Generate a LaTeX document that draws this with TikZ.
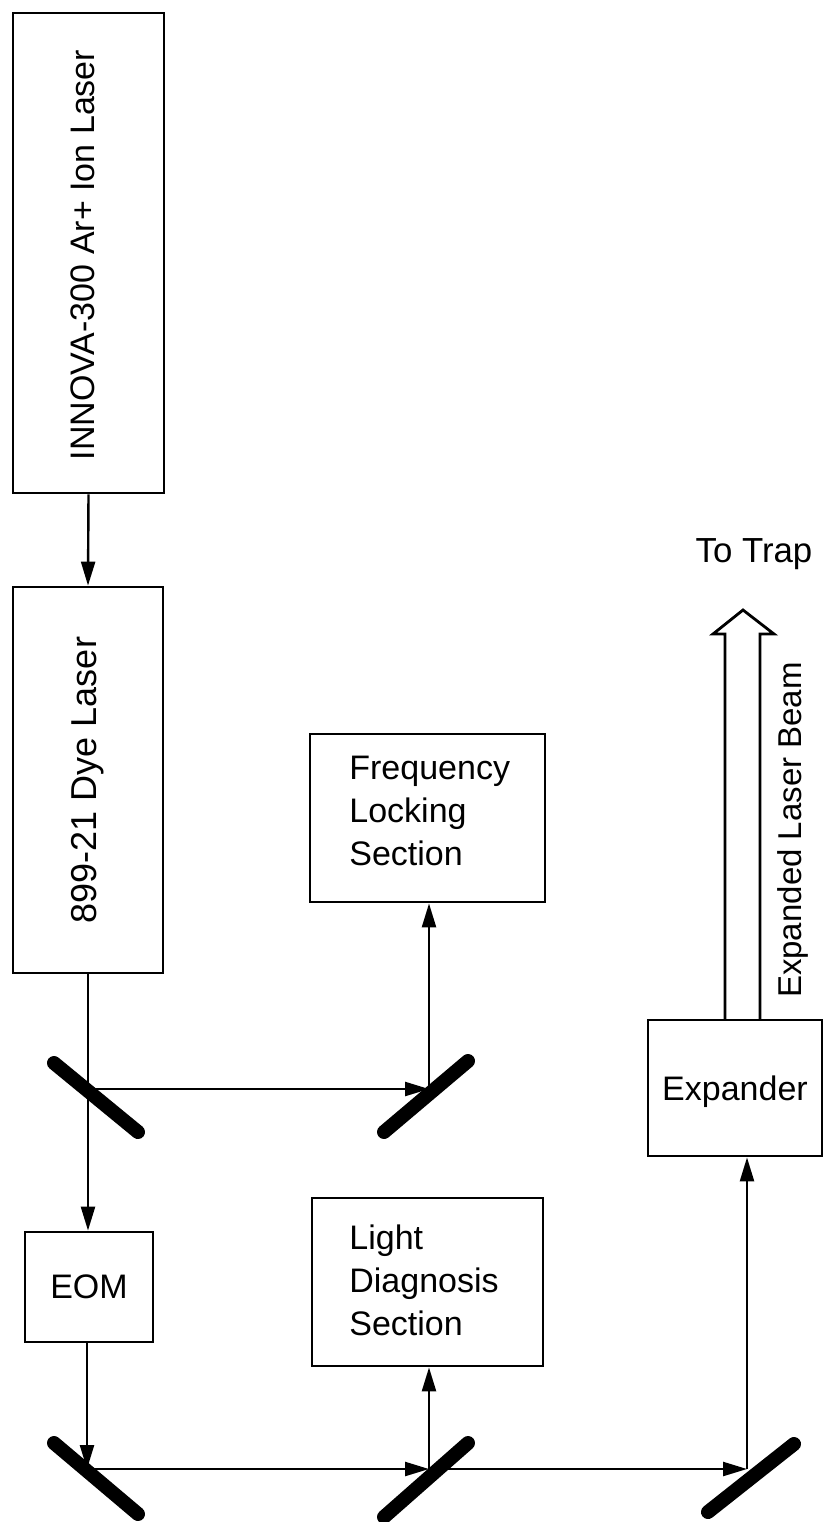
\documentclass[tikz,border=0pt]{standalone}
\usepackage{fontspec}
\setmainfont{Liberation Sans}
\usetikzlibrary{arrows.meta}
\begin{document}
\begin{tikzpicture}[x=0.5pt,y=-0.5pt,
  box/.style={draw, line width=1.4pt, inner sep=0pt, font=\fontsize{17}{21.5}\selectfont},
  lbl/.style={inner sep=0pt, font=\fontsize{17}{21.5}\selectfont, align=left},
  vtext/.style={rotate=90, anchor=base, inner sep=0pt},
  beam/.style={line width=1.2pt},
  arr/.style={beam, -{Triangle[length=12pt,width=7pt]}},
  mirror/.style={line width=7pt, line cap=round},
  hollow/.style={line width=1.4pt, line join=miter}]
\useasboundingbox (0,0) rectangle (827,1522);

% boxes
\node[box, minimum width=75.5pt, minimum height=240pt] (inn) at (88.5,253) {};
\node[vtext, font=\fontsize{17}{20}\selectfont] (inntxt) at (94,255) {INNOVA-300 Ar+ Ion Laser};
\node[box, minimum width=75pt, minimum height=193pt] (dye) at (88,780) {};
\node[vtext, font=\fontsize{18}{20}\selectfont] (dyetxt) at (97,780) {899-21 Dye Laser};
\node[box, minimum width=117.5pt, minimum height=84pt] (freq) at (427.5,818) {};
\node[lbl, anchor=north west] (freqtxt) at (349,756) {Frequency\\Locking\\Section};
\node[box, minimum width=64pt, minimum height=55pt] (eom) at (89,1287) {EOM};
\node[box, minimum width=115.5pt, minimum height=84pt] (light) at (427.5,1282) {};
\node[lbl, anchor=north west] (lighttxt) at (349,1224) {Light\\Diagnosis\\Section};
\node[box, minimum width=87pt, minimum height=68pt, text depth=0pt] (exp) at (735,1088) {Expander};

% beam points on mirrors
\coordinate (m1) at (87,1089);
\coordinate (m2) at (429,1089);
\coordinate (m3) at (87,1469);
\coordinate (m4) at (429,1469);
\coordinate (m5) at (747,1469);

% connectors
\draw[arr] (inn.south) -- (dye.north);
\draw[arr] (dye.south) -- (dye.south |- eom.north);
\draw[arr] (m1) -- (m2);
\draw[arr] (m2) -- (m2 |- freq.south);
\draw[arr] (eom.south -| m3) -- (m3);
\draw[arr] (m3) -- (m4);
\draw[arr] (m4) -- (m4 |- light.south);
\draw[arr] (m4) -- (m5);
\draw[arr] (m5) -- (m5 |- exp.south);

% mirrors
\draw[mirror] (54,1063) -- (138,1132);
\draw[mirror] (384,1132) -- (468,1061);
\draw[mirror] (54,1443) -- (138,1514);
\draw[mirror] (384,1517) -- (468,1443);
\draw[mirror] (708,1512) -- (794,1444);

% expanded beam (hollow arrow)
\coordinate (bl) at (725,1020);
\coordinate (br) at (760,1020);
\draw[hollow] (bl) -- (725,634) -- (713,634) -- (743,610) -- (774,634) -- (760,634) -- (br);
\node[vtext, font=\fontsize{16.5}{20}\selectfont] (beamtxt) at (801,830) {Expanded Laser Beam};
\node[inner sep=0pt, anchor=base, font=\fontsize{17.4}{20}\selectfont] (trap) at (754,562) {To Trap};
\end{tikzpicture}
\end{document}
